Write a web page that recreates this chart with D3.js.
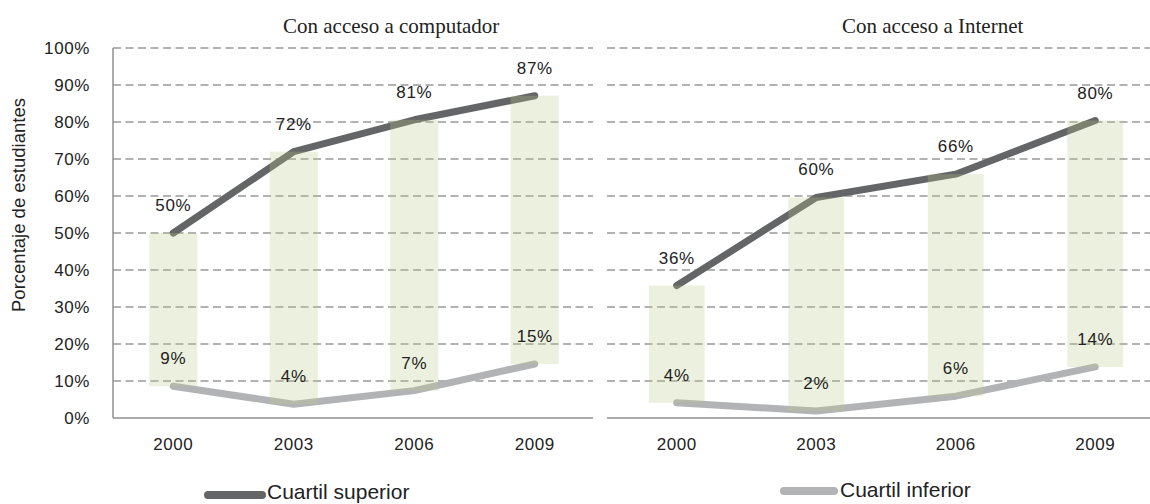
<!DOCTYPE html>
<html>
<head>
<meta charset="utf-8">
<script src="https://cdn.jsdelivr.net/npm/d3@7/dist/d3.min.js"></script>
<style>
  html, body { margin: 0; padding: 0; background: #fff; }
  svg { display: block; }
  .lbl { font-family: "Liberation Sans", Arial, sans-serif; fill: #222; }
  .ttl { font-family: "Liberation Serif", "Times New Roman", serif; fill: #222; }
</style>
</head>
<body>
<svg id="chart" width="1150" height="504"></svg>
<script>
// ---- data ----
const years = ["2000", "2003", "2006", "2009"];
const compSuperior = [50.0, 72.0, 80.6, 87.1];
const compInferior = [8.6, 3.7, 7.4, 14.6];
const netSuperior = [35.8, 59.6, 65.9, 80.4];
const netInferior = [4.1, 1.9, 5.9, 13.8];
const yTicks = [0, 10, 20, 30, 40, 50, 60, 70, 80, 90, 100];
const panelTitles = ["Con acceso a computador", "Con acceso a Internet"];
const yTitle = "Porcentaje de estudiantes";
const legendNames = ["Cuartil superior", "Cuartil inferior"];

const svg = d3.select("#chart");
const C_SUP = "#646567", C_INF = "#b2b3b5";
const BAR_FILL = "rgb(187,200,141)", BAR_OP = 0.28;

const y = d3.scaleLinear().domain([0, 100]).range([418, 48]);

const panels = [
  { title: panelTitles[0], sup: compSuperior, inf: compInferior, range: [113, 595], gridEnd: 593, titleX: 283, yAxis: true },
  { title: panelTitles[1], sup: netSuperior, inf: netInferior, range: [607, 1165], gridEnd: 1150, titleX: 842, yAxis: false }
];

panels.forEach(p => {
  const x = d3.scaleBand().domain(years).range(p.range).paddingInner(0.6).paddingOuter(0.3);
  const cx = d => x(d) + x.bandwidth() / 2;
  const g = svg.append("g");

  // gridlines
  g.selectAll("line.grid").data(yTicks.filter(t => t > 0)).join("line")
    .attr("x1", p.range[0]).attr("x2", p.gridEnd)
    .attr("y1", d => y(d)).attr("y2", d => y(d))
    .attr("stroke", "#999999").attr("stroke-width", 1.5).attr("stroke-dasharray", "8,4.5");

  // x axis line
  g.append("line").attr("x1", p.range[0]).attr("x2", p.gridEnd)
    .attr("y1", y(0)).attr("y2", y(0)).attr("stroke", "#8f8f8f").attr("stroke-width", 1.5);

  if (p.yAxis) {
    g.append("line").attr("x1", p.range[0]).attr("x2", p.range[0])
      .attr("y1", y(0)).attr("y2", y(100)).attr("stroke", "#8f8f8f").attr("stroke-width", 1.5);
    g.selectAll("text.ytick").data(yTicks).join("text")
      .attr("class", "lbl").attr("x", 90).attr("y", d => y(d)).attr("dy", "0.36em")
      .attr("text-anchor", "end").style("font-size", "17px").style("letter-spacing", "0.6px")
      .text(d => d + "%");
  }

  // x tick labels
  g.selectAll("text.xtick").data(years).join("text")
    .attr("class", "lbl").attr("x", d => cx(d)).attr("y", 450)
    .attr("text-anchor", "middle").style("font-size", "17px").style("letter-spacing", "0.6px")
    .text(d => d);

  // lines
  const line = d3.line().x((d, i) => cx(years[i])).y(d => y(d));
  [[p.sup, C_SUP], [p.inf, C_INF]].forEach(([vals, col]) => {
    g.append("path").datum(vals).attr("d", line)
      .attr("fill", "none").attr("stroke", col).attr("stroke-width", 7)
      .attr("stroke-linecap", "round").attr("stroke-linejoin", "round");
  });

  // range bars (semi-transparent, over lines)
  g.selectAll("rect.bar").data(years).join("rect")
    .attr("x", d => x(d)).attr("width", x.bandwidth())
    .attr("y", (d, i) => y(p.sup[i])).attr("height", (d, i) => y(p.inf[i]) - y(p.sup[i]))
    .attr("fill", BAR_FILL).attr("fill-opacity", BAR_OP);

  // data labels
  [p.sup, p.inf].forEach(vals => {
    g.selectAll(null).data(vals).join("text")
      .attr("class", "lbl").attr("x", (d, i) => cx(years[i])).attr("y", d => y(d) - 22)
      .attr("text-anchor", "middle").style("font-size", "17px").style("letter-spacing", "0.6px")
      .text(d => Math.round(d) + "%");
  });

  // title
  g.append("text").attr("class", "ttl").attr("x", p.titleX).attr("y", 33)
    .style("font-size", "21px").text(p.title);
});

// y title
svg.append("text").attr("class", "lbl")
  .attr("transform", "translate(25,205) rotate(-90)")
  .attr("text-anchor", "middle").style("font-size", "18.5px")
  .text(yTitle);

// legend
const legend = [
  { name: legendNames[0], color: C_SUP, x1: 208, x2: 262, ly: 495, tx: 267, ty: 499 },
  { name: legendNames[1], color: C_INF, x1: 784, x2: 834, ly: 491, tx: 840, ty: 497 }
];
legend.forEach(l => {
  svg.append("line").attr("x1", l.x1).attr("x2", l.x2).attr("y1", l.ly).attr("y2", l.ly)
    .attr("stroke", l.color).attr("stroke-width", 8).attr("stroke-linecap", "round");
  svg.append("text").attr("class", "lbl").attr("x", l.tx).attr("y", l.ty)
    .style("font-size", "21px").text(l.name);
});
</script>
</body>
</html>
